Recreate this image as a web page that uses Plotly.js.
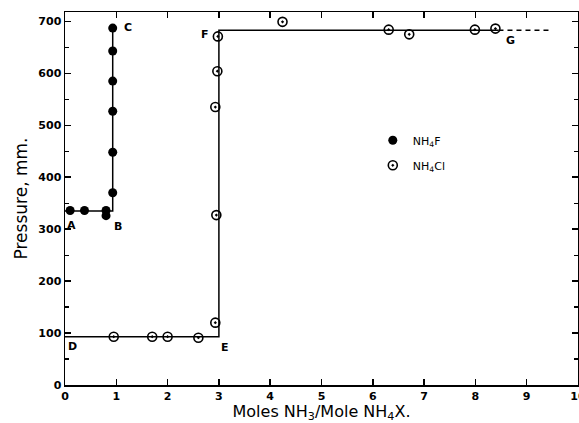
<!DOCTYPE html>
<html>
<head>
<meta charset="utf-8">
<script src="https://cdn.plot.ly/plotly-3.0.1.min.js"></script>
<style>html,body{margin:0;padding:0;background:#fff;}#chart{width:579px;height:423px;}</style>
</head>
<body>
<div id="chart"></div>
<script>
// NH4F data points (filled circles)
const fX = [0.1, 0.38, 0.8, 0.8, 0.93, 0.93, 0.93, 0.93, 0.93, 0.93];
const fY = [336, 336, 336, 326, 370, 448, 527, 585, 643, 687];
// NH4F idealised curve
const fLineX = [0, 0.93, 0.93];
const fLineY = [335, 335, 687];

// NH4Cl data points (open circles with dot)
const cX = [0.95, 1.7, 2.0, 2.6, 2.93, 2.95, 2.93, 2.97, 2.98, 4.24, 6.31, 6.71, 7.99, 8.39];
const cY = [93, 93, 93, 91, 120, 327, 535, 604, 671, 699, 684, 675, 684, 686];
// NH4Cl idealised curve
const cLineX = [0, 3.0, 3.0, 8.45];
const cLineY = [93, 93, 683, 683];
const cDashX = [8.45, 9.45];
const cDashY = [683, 683];

// axis ticks
const xTicks = [0,1,2,3,4,5,6,7,8,9,10];
const yTicks = [0,100,200,300,400,500,600,700];
const yMinorTicks = [50,150,250,350,450,550,650];

// point labels
const labelText = ['A', 'B', 'C', 'D', 'E', 'F', 'G'];
const labelX = [0.12, 1.03, 1.22, 0.14, 3.12, 2.72, 8.68];
const labelY = [307, 305, 688, 75, 73, 675, 663];

const traces = [
  {x: fLineX, y: fLineY, mode: 'lines', line: {color: '#000', width: 1.5}, showlegend: false, hoverinfo: 'skip'},
  {x: cLineX, y: cLineY, mode: 'lines', line: {color: '#000', width: 1.5}, showlegend: false, hoverinfo: 'skip'},
  {x: cDashX, y: cDashY, mode: 'lines', line: {color: '#000', width: 1.5, dash: '5px,4px'}, showlegend: false, hoverinfo: 'skip'},
  {x: fX, y: fY, mode: 'markers', name: 'NH<sub>4</sub>F', legendgroup: 'f',
   marker: {symbol: 'circle', size: 9, color: '#000'}},
  {x: cX, y: cY, mode: 'markers', name: 'NH<sub>4</sub>Cl', legendgroup: 'c',
   marker: {symbol: 'circle-open-dot', size: 9, color: '#000', line: {width: 1.6, color: '#000'}}}
];

const annotations = labelText.map((t, i) => ({
  x: labelX[i], y: labelY[i], xref: 'x', yref: 'y', text: t, showarrow: false,
  font: {family: 'DejaVu Sans', size: 11, color: '#000', weight: 'bold'}
}));

const layout = {
  width: 579, height: 423,
  margin: {l: 65, r: 1, t: 12, b: 38},
  paper_bgcolor: '#fff', plot_bgcolor: '#fff',
  font: {family: 'DejaVu Sans', color: '#000'},
  xaxis: {
    range: [0, 10], tickvals: xTicks, ticklabeloverflow: 'allow',
    ticks: 'inside', ticklen: 6, tickwidth: 1.5, tickcolor: '#000',
    showline: true, linecolor: '#000', linewidth: 1.5, mirror: 'ticks',
    showgrid: false, zeroline: false,
    tickfont: {family: 'DejaVu Sans', size: 11, weight: 'bold'},
    title: {text: 'Moles NH<sub>3</sub>/Mole NH<sub>4</sub>X.', font: {family: 'DejaVu Sans', size: 16}, standoff: 3}
  },
  yaxis: {
    range: [0, 718], tickvals: yTicks,
    ticks: 'inside', ticklen: 6, tickwidth: 1.5, tickcolor: '#000',
    minor: {tickvals: yMinorTicks, ticks: 'inside', ticklen: 4, tickwidth: 1.2, tickcolor: '#000', showgrid: false},
    showline: true, linecolor: '#000', linewidth: 1.5, mirror: 'ticks',
    showgrid: false, zeroline: false,
    tickfont: {family: 'DejaVu Sans', size: 11, weight: 'bold'},
    title: {text: 'Pressure, mm.', font: {family: 'DejaVu Sans', size: 17}, standoff: 6}
  },
  legend: {x: 0.6, y: 0.695, xanchor: 'left', yanchor: 'top', itemwidth: 30,
    bgcolor: 'rgba(0,0,0,0)', font: {family: 'DejaVu Sans', size: 11}, tracegroupgap: 6},
  annotations: annotations
};

Plotly.newPlot('chart', traces, layout, {displayModeBar: false, staticPlot: true});
</script>
</body>
</html>
